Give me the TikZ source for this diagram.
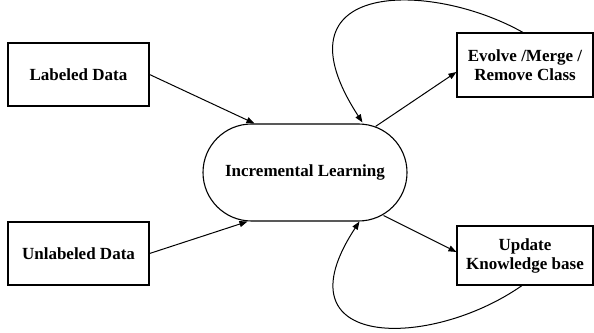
\documentclass[tikz,border=0pt]{standalone}
\usepackage{fontspec}
\setmainfont{Liberation Serif}
\usetikzlibrary{arrows.meta,calc}
\begin{document}
\begin{tikzpicture}[x=1pt,y=1pt,
  box/.style={draw,line width=1.1pt,align=center,inner sep=2pt,font=\fontsize{17}{19}\selectfont\bfseries},
  conn/.style={line width=1pt,-{Triangle[length=8pt,width=6pt]}}]
\useasboundingbox (0,0) rectangle (594,332);
\node[box,minimum width=141,minimum height=63] (lab) at (78.5,257.5) {Labeled Data};
\node[box,minimum width=141,minimum height=63] (unl) at (78.5,78.5) {Unlabeled Data};
\node[box,minimum width=204,minimum height=97,rounded corners=48.5pt] (inc) at (305,159.5) {Incremental Learning};
\node[box,minimum width=136,minimum height=64] (evo) at (525,267) {Evolve /Merge /\\Remove Class};
\node[box,minimum width=136,minimum height=59] (upd) at (525,76.5) {Update\\Knowledge base};
\coordinate (incA) at ($(inc.north west)+(52,0)$);
\coordinate (incB) at ($(inc.south west)+(45,0)$);
\coordinate (incC) at ($(inc.north east)+(-32,-3)$);
\coordinate (incD) at ($(inc.south east)+(-24,6)$);
\coordinate (incE) at ($(inc.north west)+(160,1)$);
\coordinate (incF) at ($(inc.south west)+(157,0)$);
\coordinate (evoT) at ($(evo.north)+(-2,0)$);
\coordinate (updB) at ($(upd.south)+(-3,0)$);
\draw[conn] (lab.east) -- (incA);
\draw[conn] (unl.east) -- (incB);
\draw[conn] (incC) -- ($(evo.west)+(0,-7)$);
\draw[conn] (incD) -- ($(upd.west)+(0,3.5)$);
\draw[conn] (evoT) .. controls (430,352) and (270,352) .. (incE);
\draw[conn] (updB) .. controls (430,-18) and (275,-18) .. (incF);
\end{tikzpicture}
\end{document}
